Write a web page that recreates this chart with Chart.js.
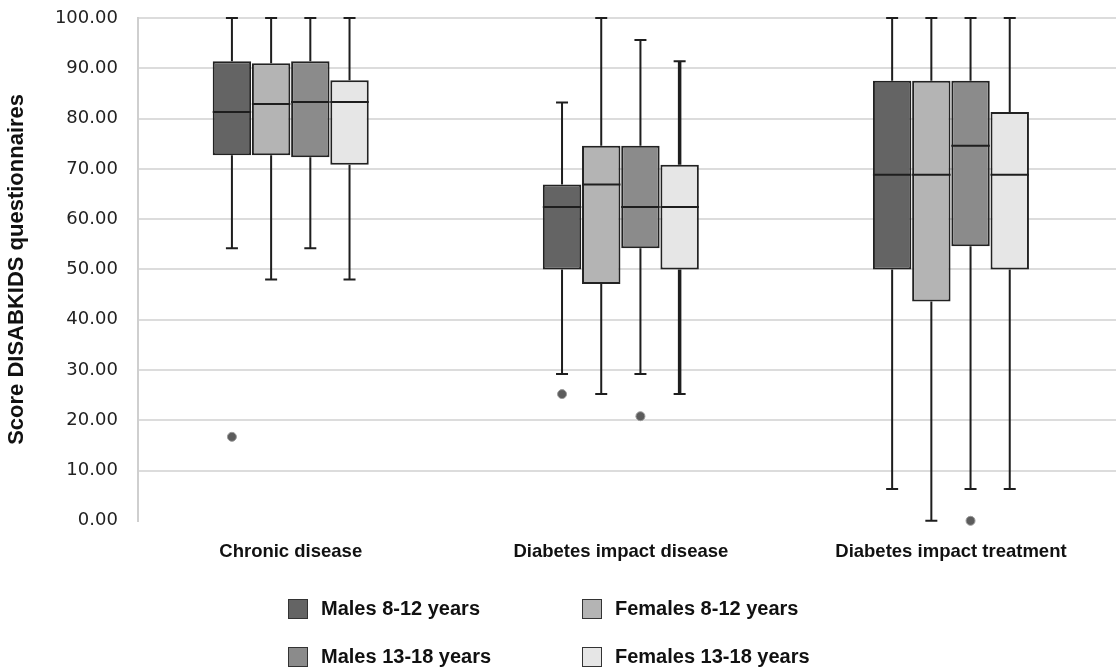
<!DOCTYPE html>
<html>
<head>
<meta charset="utf-8">
<script src="https://cdn.jsdelivr.net/npm/chart.js@4.4.1/dist/chart.umd.min.js"></script>
<style>
  html, body { margin: 0; padding: 0; background: #fff; }
  #wrap { position: relative; width: 1116px; height: 672px; }
  #legend { position: absolute; left: 288px; top: 598px; display: grid;
    grid-template-columns: 294px 294px; row-gap: 27px;
    font: bold 20px "Liberation Sans", Arial, sans-serif; color: #111; }
  .item { display: flex; align-items: center; height: 21px; }
  .swatch { width: 18px; height: 18px; border: 1.5px solid #333; margin-right: 13px; }
</style>
</head>
<body>
<div id="wrap">
  <canvas id="chart" width="1116" height="672"></canvas>
  <div id="legend"></div>
</div>
<script>
const categories = ["Chronic disease", "Diabetes impact disease", "Diabetes impact treatment"];
const seriesLabels = ["Males 8-12 years", "Females 8-12 years", "Males 13-18 years", "Females 13-18 years"];
const seriesColors = ["#646464", "#b4b4b4", "#8b8b8b", "#e6e6e6"];

// one row per series, one value per category
const whiskerLow  = [[54.2, 29.2, 6.3], [48.0, 25.2, 0.0], [54.2, 29.2, 6.3], [48.0, 25.2, 6.3]];
const q1          = [[72.7, 50.0, 50.0], [72.7, 47.1, 43.6], [72.3, 54.2, 54.6], [70.8, 50.0, 50.0]];
const median      = [[81.3, 62.4, 68.8], [82.9, 66.9, 68.8], [83.3, 62.4, 74.6], [83.3, 62.4, 68.8]];
const q3          = [[91.4, 66.9, 87.5], [91.0, 74.6, 87.5], [91.4, 74.6, 87.5], [87.6, 70.8, 81.3]];
const whiskerHigh = [[100, 83.2, 100], [100, 100, 100], [100, 95.6, 100], [100, 91.4, 100]];
const outliers    = [[[16.7], [25.2], []], [[], [], []], [[], [20.8], [0]], [[], [], []]];
const yTicks = [0, 10, 20, 30, 40, 50, 60, 70, 80, 90, 100];

const boxExtras = {
  id: "boxExtras",
  afterDatasetsDraw(chart) {
    const ctx = chart.ctx;
    const y = chart.scales.y;
    ctx.save();
    chart.data.datasets.forEach((ds, s) => {
      chart.getDatasetMeta(s).data.forEach((bar, c) => {
        const x = bar.x;
        const half = bar.width / 2;
        const top = y.getPixelForValue(q3[s][c]);
        const bot = y.getPixelForValue(q1[s][c]);
        const hi = y.getPixelForValue(whiskerHigh[s][c]);
        const lo = y.getPixelForValue(whiskerLow[s][c]);
        ctx.strokeStyle = "#1e1e1e";
        ctx.lineWidth = ds.whiskerWidth[c];
        ctx.beginPath();
        ctx.moveTo(x, top); ctx.lineTo(x, hi);
        ctx.moveTo(x, bot); ctx.lineTo(x, lo);
        ctx.stroke();
        ctx.lineWidth = 2;
        ctx.beginPath();
        ctx.moveTo(x - 6, hi); ctx.lineTo(x + 6, hi);
        ctx.moveTo(x - 6, lo); ctx.lineTo(x + 6, lo);
        const m = y.getPixelForValue(median[s][c]);
        ctx.moveTo(x - half, m); ctx.lineTo(x + half, m);
        ctx.stroke();
        outliers[s][c].forEach(v => {
          ctx.beginPath();
          ctx.arc(x, y.getPixelForValue(v), 4.5, 0, Math.PI * 2);
          ctx.fillStyle = "#5c5c5c";
          ctx.fill();
          ctx.lineWidth = 1;
          ctx.strokeStyle = "#9a9a9a";
          ctx.stroke();
        });
      });
    });
    ctx.restore();
  }
};

const datasets = seriesLabels.map((label, s) => ({
  label: label,
  data: categories.map((_, c) => ({ x: c, y: [q1[s][c], q3[s][c]] })),
  backgroundColor: seriesColors[s],
  borderColor: "#222",
  borderWidth: 2,
  borderSkipped: false,
  whiskerWidth: s === 3 ? [2, 3.5, 2] : [2, 2, 2],
  barPercentage: 0.98,
  categoryPercentage: 0.475,
}));

new Chart(document.getElementById("chart"), {
  type: "bar",
  data: { datasets: datasets },
  options: {
    responsive: false,
    animation: false,
    devicePixelRatio: 1,
    layout: { padding: { top: 18, right: 0, bottom: 89, left: 0 } },
    plugins: { legend: { display: false }, tooltip: { enabled: false } },
    scales: {
      x: {
        type: "linear",
        min: -0.463,
        max: 2.5,
        offset: false,
        grid: { display: false, drawTicks: false },
        border: { display: false },
        ticks: {
          stepSize: 1,
          includeBounds: false,
          autoSkip: false,
          maxRotation: 0,
          padding: 20,
          color: "#111",
          font: { family: "Liberation Sans", size: 18.5, weight: "bold" },
          callback: v => categories[v] || "",
        },
      },
      y: {
        min: 0,
        max: 100,
        afterBuildTicks: axis => { axis.ticks = yTicks.map(v => ({ value: v })); },
        afterFit: axis => { axis.paddingTop = 0; axis.paddingBottom = 0; },
        grid: {
          drawTicks: false,
          lineWidth: 2,
          color: c => (c.tick && c.tick.value === 0 ? "rgba(0,0,0,0)" : "#dcdcdc"),
        },
        border: { display: true, color: "#cfcfcf", width: 2 },
        ticks: {
          padding: 20,
          color: "#222",
          font: { family: "DejaVu Sans", size: 18 },
          callback: v => v.toFixed(2),
        },
        title: {
          display: true,
          text: "Score DISABKIDS questionnaires",
          color: "#111",
          font: { family: "Liberation Sans", size: 22, weight: "bold" },
          padding: { top: 4, bottom: 4.5 },
        },
      },
    },
  },
  plugins: [boxExtras],
});

const legend = document.getElementById("legend");
seriesLabels.forEach((label, s) => {
  const item = document.createElement("div");
  item.className = "item";
  const sw = document.createElement("span");
  sw.className = "swatch";
  sw.style.background = seriesColors[s];
  item.appendChild(sw);
  item.appendChild(document.createTextNode(label));
  legend.appendChild(item);
});
</script>
</body>
</html>
